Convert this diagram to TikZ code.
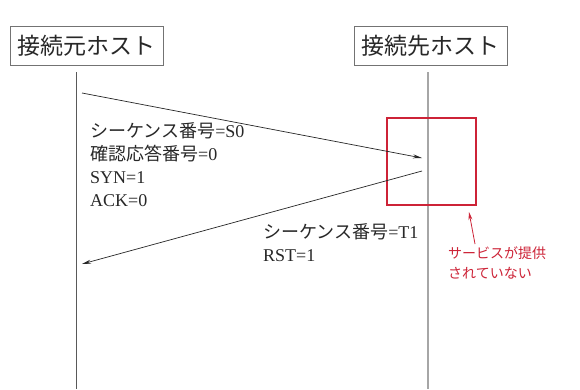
\documentclass[tikz,border=0pt]{standalone}
\usepackage{fontspec}
\setmainfont{Liberation Serif}
\newfontfamily\cjk{Noto Sans CJK JP}
\usetikzlibrary{arrows.meta}
\definecolor{alertred}{RGB}{205,35,55}
\definecolor{txt}{RGB}{40,40,40}
\begin{document}
\begin{tikzpicture}[x=1pt,y=-1pt,
  hostbox/.style={draw=black!55,line width=0.8pt,minimum width=153pt,minimum height=39pt,inner sep=0pt,
    font=\fontsize{23}{26}\selectfont\cjk,text=txt},
  lbl/.style={anchor=west,inner sep=0pt,text=txt,font=\fontsize{18}{20}\selectfont},
  note/.style={anchor=west,inner sep=0pt,text=alertred,font=\fontsize{14}{16}\selectfont\cjk},
  msg/.style={line width=0.7pt,draw=black!85,-{Stealth[length=9pt,width=4pt]}}]
\useasboundingbox (0,0) rectangle (580,389);
\fill[white] (0,0) rectangle (580,389);
% hosts
\node[hostbox] (src) at (86.5,45.5) {接続元ホスト};
\node[hostbox] (dst) at (430.5,45.5) {接続先ホスト};
% lifelines
\coordinate (srcTop) at (76,72);
\coordinate (srcBot) at (76,389);
\coordinate (dstTop) at (428,72);
\coordinate (dstBot) at (428,389);
\draw[line width=0.9pt,black!65] (srcTop) -- (srcBot);
\draw[line width=1.3pt,black!35] (dstTop) -- (dstBot);
% red box
\node[draw=alertred,line width=2pt,minimum width=89pt,minimum height=87pt,inner sep=0pt] (refuse) at (431.5,161.5) {};
% messages
\coordinate (a1s) at (82,93);
\coordinate (a1e) at (422,158);
\coordinate (a2s) at (422,171);
\coordinate (a2e) at (82,264);
\draw[msg] (a1s) -- (a1e);
\draw[msg] (a2s) -- (a2e);
% labels of message 1
\node[lbl] (l1) at (90,131) {{\fontsize{18}{20}\selectfont\cjk シーケンス番号}=S0};
\node[lbl] (l2) at (90,154) {{\fontsize{18}{20}\selectfont\cjk 確認応答番号}=0};
\node[lbl] (l3) at (90,178) {SYN=1};
\node[lbl] (l4) at (90,201) {ACK=0};
% labels of message 2
\node[lbl] (m1) at (263,232) {{\fontsize{18}{20}\selectfont\cjk シーケンス番号}=T1};
\node[lbl] (m2) at (263,256) {RST=1};
% note
\node[note] (n1) at (448,253) {サービスが提供};
\node[note] (n2) at (448,273) {されていない};
\coordinate (noteTail) at (475,244);
\coordinate (noteTip) at (469,212);
\draw[alertred,line width=0.8pt,-{Stealth[length=8pt,width=4pt]}] (noteTail) -- (noteTip);
\end{tikzpicture}
\end{document}
